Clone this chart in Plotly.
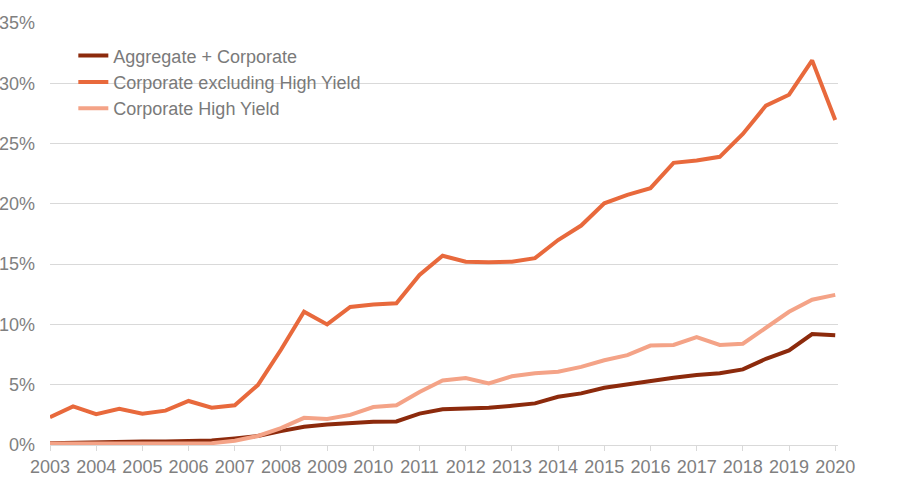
import plotly.graph_objects as go

periods = [2003.0 + 0.5 * i for i in range(35)]

corp_ex_hy = [2.3, 3.2, 2.55, 3.0, 2.6, 2.85, 3.65, 3.1, 3.3, 4.97,
              7.9, 11.05, 10.0, 11.45, 11.65, 11.75, 14.1, 15.7, 15.2, 15.15,
              15.2, 15.5, 17.0, 18.2, 20.05, 20.75, 21.3, 23.4, 23.6, 23.9,
              25.8, 28.15, 29.05, 31.9, 26.95]

corp_hy = [0.12, 0.12, 0.12, 0.12, 0.12, 0.12, 0.12, 0.15, 0.35, 0.75,
           1.4, 2.25, 2.15, 2.5, 3.15, 3.3, 4.4, 5.35, 5.55, 5.1,
           5.7, 5.95, 6.08, 6.48, 7.03, 7.45, 8.25, 8.3, 8.95, 8.3,
           8.4, 9.75, 11.05, 12.05, 12.45]

agg_corp = [0.15, 0.2, 0.22, 0.28, 0.3, 0.3, 0.3, 0.38, 0.55, 0.75,
            1.15, 1.52, 1.7, 1.85, 1.93, 1.95, 2.6, 2.97, 3.04, 3.08,
            3.25, 3.45, 4.0, 4.28, 4.75, 5.05, 5.3, 5.58, 5.8, 5.95,
            6.27, 7.15, 7.85, 9.2, 9.1]

year_ticks = list(range(2003, 2021))
pct_ticks = [0, 5, 10, 15, 20, 25, 30, 35]

series = [
    ("Aggregate + Corporate", agg_corp, "#8c2a0c"),
    ("Corporate excluding High Yield", corp_ex_hy, "#e8693c"),
    ("Corporate High Yield", corp_hy, "#f4a387"),
]

fig = go.Figure()
for name, vals, color in series:
    fig.add_trace(go.Scatter(
        x=periods, y=vals, mode="lines", name=name,
        line=dict(color=color, width=4),
    ))

font_family = "Liberation Sans, Arial, Helvetica, sans-serif"
fig.update_layout(
    width=900, height=482,
    paper_bgcolor="white", plot_bgcolor="white",
    margin=dict(l=50, r=62, t=23, b=37),
    font=dict(family=font_family, size=18, color="#808080"),
    showlegend=True,
    legend=dict(
        x=0.0296, y=0.966, xanchor="left", yanchor="top",
        bgcolor="rgba(0,0,0,0)",
        font=dict(size=18, color="#7a7a7a"),
        tracegroupgap=0,
    ),
    xaxis=dict(
        range=[2003, 2020.06],
        tickvals=year_ticks,
        ticktext=[str(y) for y in year_ticks],
        showgrid=False, zeroline=False, automargin=False,
        showline=True, linecolor="#d9d9d9", linewidth=1,
        ticks="outside", ticklen=5, tickcolor="#d9d9d9", tickwidth=1,
        tickfont=dict(size=18, color="#808080"),
    ),
    yaxis=dict(
        range=[0, 35],
        tickvals=pct_ticks,
        ticktext=[f"{v}%" for v in pct_ticks],
        showgrid=True, gridcolor="#d9d9d9", gridwidth=1,
        zeroline=False, showline=False, ticks="", automargin=False,
        ticklabelstandoff=14,
        tickfont=dict(size=18, color="#808080"),
    ),
)

fig.write_html(
    "out.html",
    config={"displayModeBar": False},
    post_script="document.body.style.margin='0px';document.body.style.overflow='hidden';",
)
